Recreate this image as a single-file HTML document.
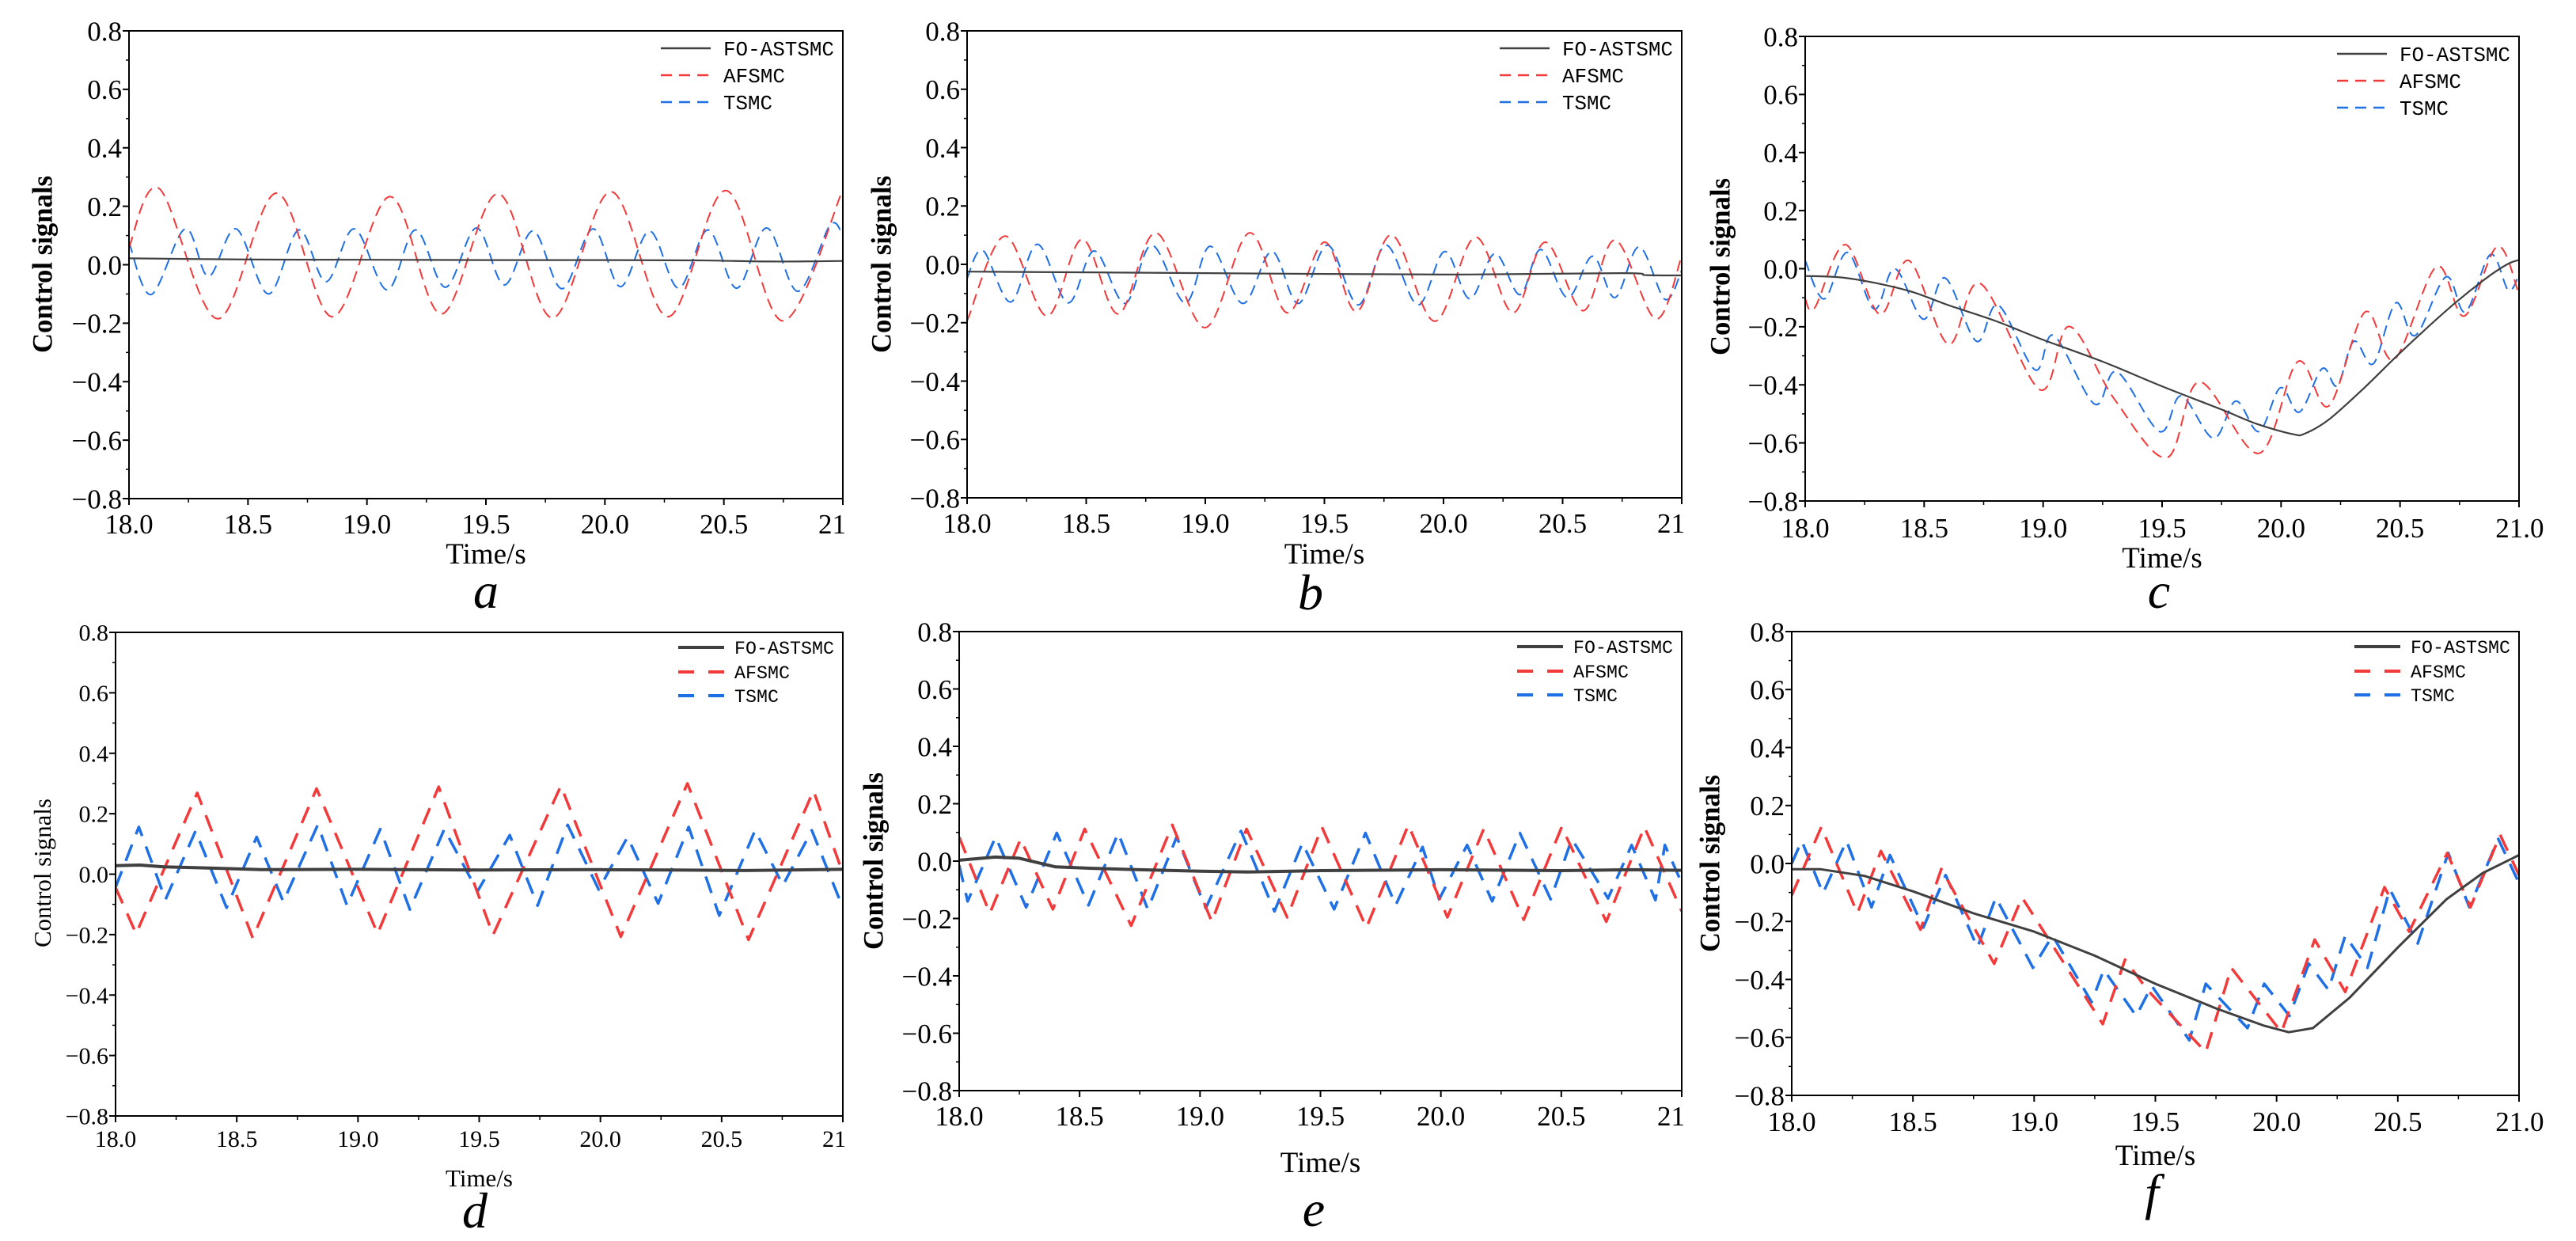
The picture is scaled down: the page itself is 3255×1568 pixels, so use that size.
<!DOCTYPE html>
<html><head><meta charset="utf-8">
<style>
html,body{margin:0;padding:0;background:#fff;}
svg{display:block;font-family:"Liberation Serif","Times New Roman","DejaVu Serif",serif;}
svg text{font-family:"Liberation Serif","Times New Roman","DejaVu Serif",serif;fill:#000;}
svg text.leg{font-family:"Liberation Mono","DejaVu Sans Mono",monospace;}
</style></head>
<body>
<svg id="fig" xmlns="http://www.w3.org/2000/svg" width="3255" height="1568" viewBox="0 0 3255 1568" font-family="Liberation Serif, Times New Roman, DejaVu Serif, serif"></svg>
<script>
// ---------- data (time s, control signal) ----------
const xTicks=[18.0,18.5,19.0,19.5,20.0,20.5,21.0];
const yTicks=[0.8,0.6,0.4,0.2,0.0,-0.2,-0.4,-0.6,-0.8];
const seriesNames=["FO-ASTSMC","AFSMC","TSMC"];

const aFo=[[18,0.022],[18.5,0.018],[19,0.017],[19.5,0.016],[20,0.016],[20.4,0.015],[20.7,0.011],[21,0.013]];
const aAf=[[18,0.06],[18.128,0.26],[18.373,-0.185],[18.62,0.245],[18.854,-0.178],[19.097,0.233],[19.313,-0.168],[19.551,0.243],[19.78,-0.182],[20.025,0.25],[20.265,-0.178],[20.508,0.254],[20.748,-0.192],[21,0.257]];
const aTs=[[18,0.077],[18.093,-0.102],[18.236,0.123],[18.334,-0.04],[18.45,0.123],[18.586,-0.1],[18.714,0.119],[18.828,-0.058],[18.947,0.123],[19.085,-0.086],[19.204,0.119],[19.33,-0.077],[19.46,0.126],[19.577,-0.069],[19.698,0.116],[19.82,-0.082],[19.95,0.123],[20.065,-0.075],[20.188,0.115],[20.31,-0.08],[20.433,0.119],[20.554,-0.08],[20.68,0.126],[20.811,-0.091],[20.946,0.135],[21,0.098]];

const bFo=[[18,-0.025],[19,-0.03],[20,-0.035],[20.75,-0.03],[20.85,-0.037],[21,-0.038]];
const bAf=[[18,-0.194],[18.159,0.097],[18.335,-0.177],[18.483,0.086],[18.635,-0.17],[18.794,0.108],[18.998,-0.217],[19.185,0.108],[19.344,-0.166],[19.501,0.076],[19.635,-0.162],[19.782,0.101],[19.963,-0.195],[20.134,0.093],[20.291,-0.166],[20.427,0.076],[20.586,-0.159],[20.72,0.083],[20.891,-0.187],[21,0.028]];
const bTs=[[18,-0.048],[18.066,0.048],[18.183,-0.129],[18.295,0.069],[18.424,-0.132],[18.534,0.046],[18.663,-0.134],[18.775,0.066],[18.916,-0.132],[19.021,0.062],[19.157,-0.134],[19.279,0.044],[19.391,-0.134],[19.513,0.066],[19.642,-0.139],[19.759,0.066],[19.892,-0.139],[20.005,0.044],[20.11,-0.118],[20.216,0.037],[20.321,-0.104],[20.408,0.051],[20.52,-0.114],[20.626,0.028],[20.72,-0.114],[20.821,0.06],[20.93,-0.12],[21,-0.021]];

const cFo=[[18,-0.025],[18.15,-0.03],[18.3,-0.05],[18.45,-0.08],[18.6,-0.125],[18.8,-0.18],[19.0,-0.245],[19.25,-0.32],[19.5,-0.405],[19.75,-0.485],[19.9,-0.535],[20.05,-0.57],[20.1,-0.568],[20.2,-0.52],[20.35,-0.41],[20.5,-0.29],[20.7,-0.14],[20.85,-0.04],[20.95,0.015],[21,0.03]];
const cAf=[[18,-0.104],[18.04,-0.135],[18.169,0.083],[18.314,-0.157],[18.436,0.028],[18.602,-0.26],[18.736,-0.051],[18.987,-0.417],[19.11,-0.199],[19.3,-0.45],[19.52,-0.651],[19.657,-0.39],[19.907,-0.636],[20.07,-0.32],[20.2,-0.473],[20.353,-0.149],[20.475,-0.313],[20.653,0.007],[20.77,-0.163],[20.909,0.077],[21,-0.088]];
const cTs=[[18,0.028],[18.08,-0.104],[18.178,0.056],[18.29,-0.139],[18.377,0],[18.497,-0.174],[18.588,-0.032],[18.72,-0.25],[18.811,-0.125],[18.966,-0.348],[19.045,-0.23],[19.216,-0.466],[19.31,-0.355],[19.49,-0.561],[19.58,-0.438],[19.716,-0.584],[19.81,-0.456],[19.907,-0.561],[19.997,-0.41],[20.077,-0.494],[20.173,-0.344],[20.236,-0.403],[20.306,-0.25],[20.388,-0.327],[20.482,-0.118],[20.564,-0.23],[20.693,-0.028],[20.775,-0.149],[20.88,0.049],[20.955,-0.074],[21,-0.021]];

const dFo=[[18,0.028],[18.1,0.03],[18.2,0.024],[18.4,0.02],[18.6,0.015],[19,0.016],[19.5,0.014],[20,0.015],[20.3,0.014],[20.6,0.012],[21,0.016]];
const dAf=[[18,-0.044],[18.085,-0.197],[18.337,0.269],[18.566,-0.211],[18.829,0.283],[19.081,-0.197],[19.333,0.289],[19.557,-0.201],[19.837,0.292],[20.084,-0.207],[20.359,0.3],[20.611,-0.217],[20.879,0.276],[21,0.003]];
const dTs=[[18,-0.044],[18.096,0.156],[18.206,-0.084],[18.33,0.143],[18.458,-0.111],[18.582,0.123],[18.692,-0.091],[18.834,0.163],[18.955,-0.104],[19.092,0.149],[19.214,-0.117],[19.356,0.149],[19.493,-0.057],[19.626,0.129],[19.741,-0.104],[19.865,0.163],[19.993,-0.051],[20.112,0.123],[20.238,-0.097],[20.364,0.156],[20.49,-0.137],[20.638,0.145],[20.753,-0.037],[20.872,0.145],[21,-0.111]];

const eFo=[[18,0.003],[18.15,0.014],[18.25,0.01],[18.4,-0.02],[18.55,-0.025],[18.75,-0.03],[19,-0.035],[19.2,-0.038],[19.5,-0.033],[20,-0.03],[20.5,-0.033],[20.8,-0.03],[21,-0.032]];
const eAf=[[18,0.084],[18.127,-0.182],[18.255,0.077],[18.389,-0.168],[18.521,0.112],[18.714,-0.225],[18.885,0.126],[19.049,-0.211],[19.193,0.112],[19.362,-0.196],[19.506,0.119],[19.691,-0.232],[19.865,0.126],[20.027,-0.196],[20.178,0.112],[20.344,-0.204],[20.502,0.119],[20.687,-0.211],[20.845,0.119],[21,-0.175]];
const eTs=[[18,-0.014],[18.035,-0.14],[18.151,0.084],[18.278,-0.161],[18.405,0.098],[18.537,-0.154],[18.66,0.098],[18.783,-0.168],[18.903,0.084],[19.024,-0.164],[19.17,0.105],[19.309,-0.175],[19.425,0.063],[19.557,-0.168],[19.687,0.098],[19.812,-0.154],[19.924,0.049],[19.993,-0.133],[20.109,0.056],[20.213,-0.14],[20.328,0.098],[20.456,-0.133],[20.544,0.077],[20.694,-0.13],[20.792,0.056],[20.891,-0.136],[20.93,0.056],[21,-0.077]];

const fFo=[[18,-0.02],[18.12,-0.02],[18.3,-0.043],[18.5,-0.096],[18.75,-0.172],[19,-0.235],[19.25,-0.318],[19.5,-0.415],[19.75,-0.5],[19.95,-0.56],[20.05,-0.582],[20.15,-0.568],[20.3,-0.464],[20.5,-0.29],[20.7,-0.124],[20.85,-0.033],[21,0.029]];
const fAf=[[18,-0.11],[18.122,0.126],[18.271,-0.172],[18.368,0.043],[18.531,-0.228],[18.617,-0.019],[18.835,-0.346],[18.95,-0.117],[19.283,-0.554],[19.375,-0.332],[19.467,-0.436],[19.708,-0.651],[19.813,-0.36],[20.02,-0.582],[20.157,-0.263],[20.283,-0.443],[20.445,-0.082],[20.547,-0.235],[20.704,0.036],[20.8,-0.151],[20.922,0.099],[21,-0.04]];
const fTs=[[18,0],[18.041,0.078],[18.129,-0.103],[18.226,0.078],[18.329,-0.151],[18.405,0.029],[18.543,-0.221],[18.635,-0.04],[18.766,-0.29],[18.842,-0.117],[18.995,-0.36],[19.076,-0.249],[19.237,-0.478],[19.287,-0.367],[19.421,-0.526],[19.485,-0.422],[19.64,-0.61],[19.708,-0.415],[19.88,-0.568],[19.949,-0.415],[20.053,-0.526],[20.133,-0.346],[20.214,-0.436],[20.283,-0.249],[20.375,-0.36],[20.467,-0.089],[20.582,-0.276],[20.708,0.036],[20.795,-0.151],[20.914,0.085],[21,-0.068]];

// ---------- layout ----------
const panels=[
 {id:"a",x0:163,x1:1065,y0:39,y1:630,fo:aFo,af:aAf,ts:aTs,smooth:true,lw:2,fw:2.2,dash:"14 8",tick:35,tickB:674,last:"21",yt:{x:53,y:334,len:224,fs:36,bold:true},tt:{y:712,fs:37},lt:{x:614,y:768},leg:{dy:[22,56,90],fs:26,len:140,thick:2.5}},
 {id:"b",x0:1222,x1:2125,y0:39,y1:629,fo:bFo,af:bAf,ts:bTs,smooth:true,lw:2,fw:2.2,dash:"14 8",tick:35,tickB:673,last:"21",yt:{x:1113,y:334,len:224,fs:36,bold:true},tt:{y:712,fs:37},lt:{x:1656,y:770},leg:{dy:[22,56,90],fs:26,len:140,thick:2.5}},
 {id:"c",x0:2281,x1:3183,y0:46,y1:633,fo:cFo,af:cAf,ts:cTs,smooth:true,lw:2,fw:2.2,dash:"14 8",tick:35,tickB:679,last:"21.0",yt:{x:2173,y:337,len:224,fs:36,bold:true},tt:{y:717,fs:37},lt:{x:2728,y:768},leg:{dy:[22,56,90],fs:26,len:140,thick:2.5}},
 {id:"d",x0:146,x1:1065,y0:799,y1:1410,fo:dFo,af:dAf,ts:dTs,smooth:false,lw:3.5,fw:4,dash:"22 14",tick:30,tickB:1449,last:"21",yt:{x:53,y:1103,len:188,fs:31,bold:false},tt:{y:1499,fs:31},lt:{x:600,y:1551},leg:{dy:[19,50,80],fs:23,len:126,thick:4}},
 {id:"e",x0:1212,x1:2125,y0:798,y1:1378,fo:eFo,af:eAf,ts:eTs,smooth:false,lw:3.5,fw:4,dash:"22 14",tick:35,tickB:1422,last:"21",yt:{x:1103,y:1088,len:224,fs:36,bold:true},tt:{y:1481,fs:37},lt:{x:1660,y:1549},leg:{dy:[19,50,80],fs:23,len:126,thick:4}},
 {id:"f",x0:2264,x1:3183,y0:798,y1:1384,fo:fFo,af:fAf,ts:fTs,smooth:false,lw:3.5,fw:3,dash:"22 14",tick:35,tickB:1429,last:"21.0",yt:{x:2160,y:1091,len:224,fs:36,bold:true},tt:{y:1472,fs:37},lt:{x:2719,y:1528},leg:{dy:[19,50,80],fs:23,len:126,thick:4}}
];
const colFo="#404040",colAf="#f23a3a",colTs="#1f6fe5";
const SERIF="Liberation Serif, Times New Roman, DejaVu Serif, serif";
const MONO="Liberation Mono, DejaVu Sans Mono, monospace";
const NS="http://www.w3.org/2000/svg";
const svg=document.getElementById("fig");
function mk(tag,attrs,parent){const e=document.createElementNS(NS,tag);for(const k in attrs)e.setAttribute(k,attrs[k]);(parent||svg).appendChild(e);return e;}

function pathStr(pts,smooth){
  if(!smooth){return pts.map((p,i)=>(i?"L":"M")+p[0].toFixed(1)+","+p[1].toFixed(1)).join("");}
  let d="M"+pts[0][0].toFixed(1)+","+pts[0][1].toFixed(1);
  for(let i=0;i<pts.length-1;i++){
    const p0=pts[Math.max(0,i-1)],p1=pts[i],p2=pts[i+1],p3=pts[Math.min(pts.length-1,i+2)];
    const c1=[p1[0]+(p2[0]-p0[0])/6,p1[1]+(p2[1]-p0[1])/6];
    const c2=[p2[0]-(p3[0]-p1[0])/6,p2[1]-(p3[1]-p1[1])/6];
    d+="C"+c1[0].toFixed(1)+","+c1[1].toFixed(1)+" "+c2[0].toFixed(1)+","+c2[1].toFixed(1)+" "+p2[0].toFixed(1)+","+p2[1].toFixed(1);
  }
  return d;
}

panels.forEach(P=>{
  const xs=t=>P.x0+(t-18)/3*(P.x1-P.x0);
  const ys=v=>P.y1-(v+0.8)/1.6*(P.y1-P.y0);
  const g=mk("g",{"font-family":SERIF});
  
  
  const cp=mk("clipPath",{id:"clip"+P.id},g);
  mk("rect",{x:P.x0,y:P.y0,width:P.x1-P.x0,height:P.y1-P.y0},cp);
  const sg=mk("g",{"clip-path":"url(#clip"+P.id+")"},g);
  const defs=[["ts",P.ts,colTs,P.dash,P.lw],["af",P.af,colAf,P.dash,P.lw],["fo",P.fo,colFo,null,P.fw]];
  defs.forEach(s=>{
    const pts=s[1].map(p=>[xs(p[0]),ys(p[1])]);
    const a={d:pathStr(pts,P.smooth),fill:"none",stroke:s[2],"stroke-width":s[4],"stroke-linejoin":"round"};
    if(s[3])a["stroke-dasharray"]=s[3];
    const pe=mk("path",a,sg);
    
    
  });
  const fr=mk("rect",{x:P.x0,y:P.y0,width:P.x1-P.x0,height:P.y1-P.y0,fill:"none",stroke:"#000","stroke-width":2},g);
  
  
  yTicks.forEach((v,i)=>{
    const y=ys(v);
    mk("line",{x1:P.x0-8,x2:P.x0,y1:y,y2:y,stroke:"#000","stroke-width":2},g);
    if(i<yTicks.length-1){const ym=ys(v-0.1);mk("line",{x1:P.x0-4,x2:P.x0,y1:ym,y2:ym,stroke:"#000","stroke-width":1.5},g);}
    const t=mk("text",{x:P.x0-9,y:y+P.tick*0.35,"font-size":P.tick,"text-anchor":"end","font-family":SERIF},g);
    t.textContent=(v<0?"\u2212":"")+Math.abs(v).toFixed(1);
    
    
  });
  xTicks.forEach((tv,i)=>{
    const x=xs(tv);
    mk("line",{x1:x,x2:x,y1:P.y1,y2:P.y1+8,stroke:"#000","stroke-width":2},g);
    if(i<xTicks.length-1){const xm=xs(tv+0.25);mk("line",{x1:xm,x2:xm,y1:P.y1,y2:P.y1+5,stroke:"#000","stroke-width":1.5},g);}
    const t=mk("text",{x:x,y:P.tickB,"font-size":P.tick,"text-anchor":i===xTicks.length-1?"end":"middle","font-family":SERIF},g);
    if(i===xTicks.length-1)t.setAttribute("x",x+(P.last==="21.0"?P.tick*0.9:4));
    t.textContent=i===xTicks.length-1?P.last:tv.toFixed(1);
    
    
  });
  const yt=mk("text",{x:0,y:0,"font-size":P.yt.fs,"font-weight":P.yt.bold?"bold":"normal","text-anchor":"middle","font-family":SERIF,textLength:P.yt.len,lengthAdjust:"spacingAndGlyphs",transform:"translate("+(P.yt.x+P.yt.fs*0.35)+","+P.yt.y+") rotate(-90)"},g);
  yt.textContent="Control signals";
  
  
  const xt=mk("text",{x:(P.x0+P.x1)/2,y:P.tt.y,"font-size":P.tt.fs,"text-anchor":"middle","font-family":SERIF},g);
  xt.textContent="Time/s";
  
  
  const lt=mk("text",{x:P.lt.x,y:P.lt.y,"font-size":64,"font-style":"italic","text-anchor":"middle","font-family":SERIF},g);
  lt.textContent=P.id;
  
  
  const lg=mk("g",{},g);
  
  
  const cols=[colFo,colAf,colTs];
  const lx=P.x1-(P.id<"d"?230:208);
  seriesNames.forEach((n,i)=>{
    const y=P.y0+P.leg.dy[i];
    const la={x1:lx,x2:lx+(P.id<"d"?63:58),y1:y,y2:y,stroke:cols[i],"stroke-width":P.leg.thick};
    if(i>0)la["stroke-dasharray"]=P.id<"d"?"14 9":"20 18";
    mk("line",la,lg);
    const tx=mk("text",{x:P.x1-(P.id<"d"?151:137),y:y+P.leg.fs*0.35,"font-size":P.leg.fs,"class":"leg","font-family":MONO},lg);
    tx.textContent=n;
    tx.setAttribute("textLength",(P.leg.len*n.length/9).toFixed(0));
    tx.setAttribute("lengthAdjust","spacingAndGlyphs");
    
    
  });
});
</script>
</body></html>
